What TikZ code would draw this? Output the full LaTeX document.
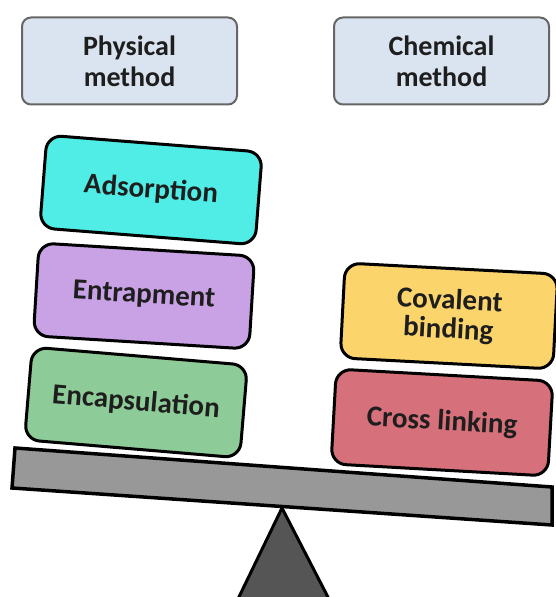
\documentclass[tikz,border=0pt]{standalone}
\usepackage{fontspec}
\setmainfont{Carlito}
\usetikzlibrary{positioning}
\definecolor{headfill}{HTML}{DAE3F0}
\definecolor{headline}{HTML}{666666}
\definecolor{textdark}{HTML}{1E1E1E}
\definecolor{adsfill}{HTML}{4FEDE6}
\definecolor{entfill}{HTML}{C9A2E6}
\definecolor{encfill}{HTML}{8DCB98}
\definecolor{covfill}{HTML}{FCD46C}
\definecolor{crlfill}{HTML}{D6707A}
\definecolor{beamfill}{HTML}{989898}
\definecolor{pivotfill}{HTML}{555555}

\begin{document}
\begin{tikzpicture}[x=1pt,y=1pt,
    head/.style={draw=headline,line width=2pt,fill=headfill,rounded corners=9pt,
      minimum width=215pt,minimum height=87pt,align=center,text=textdark,
      font=\fontsize{28}{31}\selectfont\bfseries},
    block/.style={draw=black,line width=3pt,rounded corners=15pt,
      minimum width=216pt,minimum height=93pt,align=center,text=textdark,
      font=\fontsize{29}{29}\selectfont\bfseries}]
  \useasboundingbox (0,0) rectangle (555,597);

  % headings
  \node[head] (phys) at (129.5,536) {Physical\\method};
  \node[head, right=95pt of phys] (chem) {Chemical\\method};

  % pivot and beam
  \fill[pivotfill] (237,-4) coordinate(pl) -- (282,89) coordinate(tip) -- (330,-4) coordinate(pr) -- cycle;
  \draw[line width=3pt,line join=miter] (pl) -- (tip) -- (pr);
  \draw[fill=beamfill,line width=3.5pt] (15,149) coordinate(bl) -- (552,110) coordinate(br)
    -- (552,72) -- (12,109) -- cycle;

  % physical side
  \node[block,fill=encfill,rotate=-4.8] (enc) at (136,194.5) {Encapsulation};
  \node[block,fill=entfill,rotate=-3.5] (ent) at (144,301) {Entrapment};
  \node[block,fill=adsfill,rotate=-4.5] (ads) at (151,407) {Adsorption};

  % chemical side
  \node[block,fill=crlfill,rotate=-3.2,minimum width=217pt,minimum height=95pt] (crl) at (442,174.5) {Cross linking};
  \node[block,fill=covfill,rotate=-3,minimum width=213pt,minimum height=95pt] (cov) at (449,281) {Covalent\\binding};
\end{tikzpicture}
\end{document}
